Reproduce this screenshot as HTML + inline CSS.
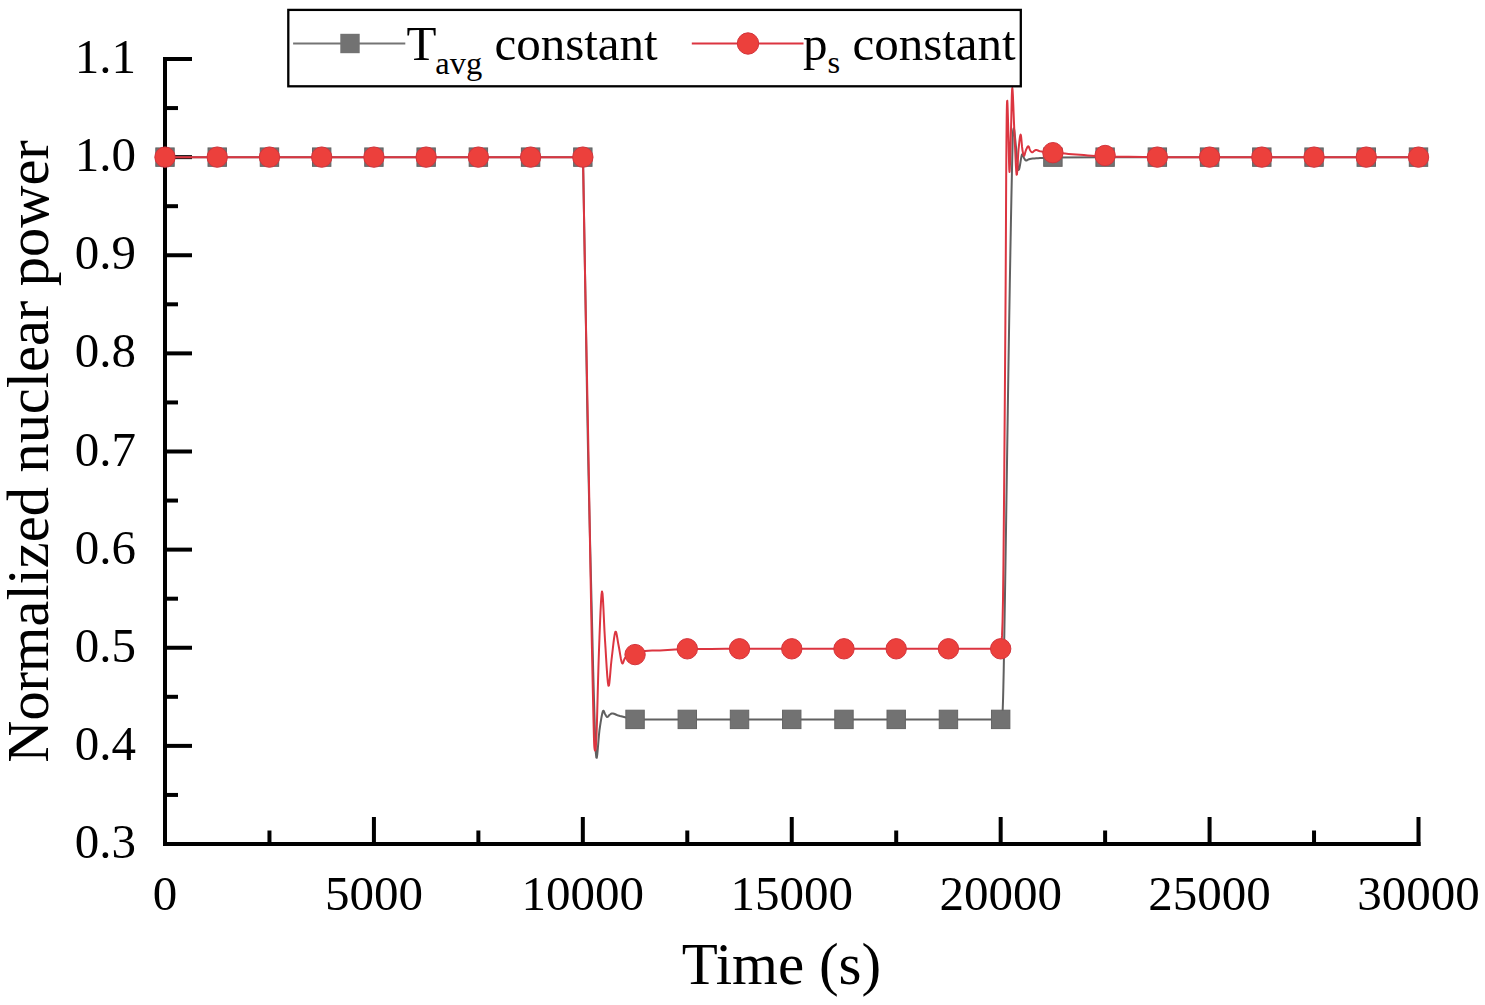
<!DOCTYPE html><html><head><meta charset="utf-8"><style>html,body{margin:0;padding:0;background:#fff;overflow:hidden}svg{display:block}text{font-family:"Liberation Serif",serif;fill:#000}</style></head><body>
<svg width="1485" height="1005" viewBox="0 0 1485 1005">
<rect width="1485" height="1005" fill="#fff"/>
<g stroke="#000" stroke-width="4" fill="none">
<path d="M165,57 L165,846 M163,844 L1420.5,844"/>
<path d="M163,844.00 L192,844.00"/>
<path d="M163,745.88 L192,745.88"/>
<path d="M163,647.75 L192,647.75"/>
<path d="M163,549.62 L192,549.62"/>
<path d="M163,451.50 L192,451.50"/>
<path d="M163,353.38 L192,353.38"/>
<path d="M163,255.25 L192,255.25"/>
<path d="M163,157.13 L192,157.13"/>
<path d="M163,59.00 L192,59.00"/>
<path d="M163,794.94 L178,794.94"/>
<path d="M163,696.81 L178,696.81"/>
<path d="M163,598.69 L178,598.69"/>
<path d="M163,500.56 L178,500.56"/>
<path d="M163,402.44 L178,402.44"/>
<path d="M163,304.31 L178,304.31"/>
<path d="M163,206.19 L178,206.19"/>
<path d="M163,108.06 L178,108.06"/>
<path d="M165.00,846 L165.00,817"/>
<path d="M373.92,846 L373.92,817"/>
<path d="M582.83,846 L582.83,817"/>
<path d="M791.75,846 L791.75,817"/>
<path d="M1000.67,846 L1000.67,817"/>
<path d="M1209.58,846 L1209.58,817"/>
<path d="M1418.50,846 L1418.50,817"/>
<path d="M269.46,846 L269.46,830.5"/>
<path d="M478.38,846 L478.38,830.5"/>
<path d="M687.29,846 L687.29,830.5"/>
<path d="M896.21,846 L896.21,830.5"/>
<path d="M1105.12,846 L1105.12,830.5"/>
<path d="M1314.04,846 L1314.04,830.5"/>
</g>
<path d="M165.00,157.13 L583.00,157.13 L583.27,172.59 L583.65,193.90 L584.09,219.19 L584.57,246.56 L585.05,274.12 L585.50,300.00 L585.91,324.59 L586.30,349.47 L586.69,374.55 L587.09,399.74 L587.53,424.92 L588.00,450.00 L588.54,475.58 L589.13,501.85 L589.75,528.12 L590.37,553.70 L590.96,577.89 L591.50,600.00 L591.98,620.05 L592.41,638.61 L592.82,655.78 L593.22,671.67 L593.61,686.37 L594.00,700.00 L594.38,713.03 L594.75,725.46 L595.11,736.72 L595.47,746.20 L595.87,753.33 L596.30,757.50 L596.78,757.73 L597.30,754.30 L597.84,748.50 L598.39,741.65 L598.95,735.05 L599.50,730.00 L600.06,726.15 L600.63,722.39 L601.21,718.88 L601.78,715.78 L602.31,713.26 L602.80,711.50 L603.23,710.70 L603.61,710.76 L603.97,711.41 L604.31,712.35 L604.65,713.31 L605.00,714.00 L605.36,714.53 L605.71,715.17 L606.06,715.81 L606.42,716.39 L606.80,716.81 L607.20,717.00 L607.63,716.88 L608.08,716.52 L608.55,716.00 L609.03,715.43 L609.51,714.89 L610.00,714.50 L610.44,714.21 L610.84,713.93 L611.24,713.69 L611.70,713.52 L612.27,713.45 L613.00,713.50 L613.84,713.70 L614.74,714.04 L615.75,714.48 L616.93,714.97 L618.32,715.49 L620.00,716.00 L622.21,716.55 L624.96,717.19 L627.94,717.86 L630.81,718.49 L633.28,719.02 L635.00,719.40 L687.29,719.40 L739.52,719.40 L791.75,719.40 L843.98,719.40 L896.21,719.40 L948.44,719.40 L1000.67,719.40 L1000.40,719.40 L1000.65,719.54 L1001.00,720.69 L1001.41,721.57 L1001.86,720.93 L1002.30,717.50 L1002.70,710.00 L1003.05,699.46 L1003.36,687.08 L1003.68,671.91 L1004.01,652.99 L1004.41,629.34 L1004.90,600.00 L1005.51,561.78 L1006.23,514.81 L1007.00,463.12 L1007.79,410.74 L1008.53,361.69 L1009.20,320.00 L1009.79,284.90 L1010.36,253.02 L1010.88,224.47 L1011.37,199.37 L1011.81,177.84 L1012.20,160.00 L1012.52,146.76 L1012.76,138.20 L1012.95,133.22 L1013.13,130.69 L1013.34,129.48 L1013.60,128.50 L1013.91,128.37 L1014.26,130.13 L1014.62,133.22 L1015.00,137.09 L1015.40,141.20 L1015.80,145.00 L1016.21,149.14 L1016.64,154.20 L1017.07,159.49 L1017.53,164.34 L1018.00,168.07 L1018.50,170.00 L1019.04,169.57 L1019.63,167.20 L1020.24,163.71 L1020.84,159.91 L1021.40,156.64 L1021.90,154.70 L1022.33,154.18 L1022.70,154.45 L1023.04,155.24 L1023.36,156.27 L1023.67,157.28 L1024.00,158.00 L1024.32,158.51 L1024.60,159.04 L1024.88,159.55 L1025.19,159.99 L1025.55,160.32 L1026.00,160.50 L1026.48,160.48 L1026.96,160.28 L1027.50,159.97 L1028.15,159.61 L1028.96,159.27 L1030.00,159.00 L1031.29,158.80 L1032.78,158.61 L1034.44,158.44 L1036.23,158.28 L1038.10,158.13 L1040.00,158.00 L1042.13,157.88 L1044.56,157.78 L1047.08,157.69 L1049.45,157.61 L1051.46,157.55 L1052.90,157.50 L1105.12,157.13 L1157.35,157.13 L1209.58,157.13 L1261.81,157.13 L1314.04,157.13 L1366.27,157.13 L1418.50,157.13" fill="none" stroke="#606060" stroke-width="2" stroke-linejoin="round"/>
<path d="M165.00,157.13 L583.00,157.13 L583.27,172.59 L583.63,193.90 L584.07,219.19 L584.54,246.56 L585.03,274.12 L585.50,300.00 L585.96,324.59 L586.45,349.47 L586.94,374.55 L587.44,399.74 L587.93,424.92 L588.40,450.00 L588.85,475.35 L589.29,501.11 L589.72,526.88 L590.15,552.22 L590.58,576.74 L591.00,600.00 L591.44,622.78 L591.89,645.57 L592.34,667.53 L592.77,687.81 L593.16,705.58 L593.50,720.00 L593.77,730.66 L593.97,738.17 L594.14,743.16 L594.30,746.28 L594.48,748.18 L594.70,749.50 L594.96,750.45 L595.23,750.54 L595.52,749.41 L595.83,746.69 L596.15,742.01 L596.50,735.00 L596.87,724.61 L597.26,710.91 L597.67,695.25 L598.10,678.98 L598.55,663.45 L599.00,650.00 L599.47,637.48 L599.96,624.57 L600.47,612.41 L600.98,602.09 L601.49,594.75 L602.00,591.50 L602.50,593.42 L602.99,599.84 L603.48,609.24 L603.97,620.08 L604.48,630.84 L605.00,640.00 L605.55,648.61 L606.11,658.09 L606.69,667.49 L607.27,675.86 L607.85,682.25 L608.40,685.70 L608.93,685.58 L609.43,682.51 L609.92,677.46 L610.43,671.38 L610.95,665.24 L611.50,660.00 L612.10,654.99 L612.74,649.32 L613.39,643.58 L614.05,638.38 L614.69,634.32 L615.30,632.00 L615.86,631.74 L616.40,633.11 L616.92,635.62 L617.43,638.78 L617.96,642.07 L618.50,645.00 L619.07,647.98 L619.66,651.48 L620.26,655.12 L620.86,658.52 L621.44,661.27 L622.00,663.00 L622.52,663.47 L623.00,662.96 L623.47,661.81 L623.94,660.37 L624.45,658.98 L625.00,658.00 L625.59,657.35 L626.19,656.76 L626.81,656.21 L627.48,655.73 L628.21,655.33 L629.00,655.00 L629.95,654.78 L631.07,654.66 L632.25,654.61 L633.37,654.61 L634.32,654.61 L635.00,654.60 L635.06,654.60 L636.73,653.88 L639.09,652.83 L641.93,651.77 L645.00,651.00 L648.39,650.67 L652.18,650.59 L656.13,650.59 L660.00,650.50 L663.81,650.27 L667.67,649.99 L671.44,649.71 L675.00,649.50 L677.33,649.38 L678.82,649.31 L681.47,649.27 L687.29,649.20 L697.54,649.10 L710.91,648.98 L725.53,648.87 L739.52,648.80 L752.58,648.77 L765.64,648.77 L778.69,648.79 L791.75,648.80 L804.81,648.80 L817.86,648.80 L830.92,648.80 L843.98,648.80 L857.04,648.80 L870.09,648.80 L883.15,648.80 L896.21,648.80 L909.27,648.80 L922.32,648.80 L935.38,648.80 L948.44,648.80 L962.72,648.80 L977.82,648.80 L991.28,648.80 L1000.67,648.80 L1000.69,645.99 L1001.08,644.57 L1001.55,641.80 L1002.05,635.14 L1002.55,622.05 L1003.00,600.00 L1003.43,565.34 L1003.87,519.36 L1004.31,466.96 L1004.72,413.01 L1005.09,362.40 L1005.40,320.00 L1005.64,285.22 L1005.81,254.03 L1005.95,226.17 L1006.06,201.39 L1006.17,179.42 L1006.30,160.00 L1006.43,143.33 L1006.56,129.66 L1006.68,118.80 L1006.81,110.56 L1006.94,104.76 L1007.10,101.20 L1007.28,100.78 L1007.47,103.83 L1007.68,109.31 L1007.89,116.19 L1008.10,123.43 L1008.30,130.00 L1008.50,137.20 L1008.69,146.10 L1008.88,155.37 L1009.08,163.66 L1009.28,169.61 L1009.50,171.90 L1009.73,169.77 L1009.99,164.14 L1010.24,156.19 L1010.50,147.08 L1010.76,137.96 L1011.00,130.00 L1011.22,122.03 L1011.42,112.90 L1011.62,103.76 L1011.82,95.78 L1012.05,90.14 L1012.30,88.00 L1012.59,90.11 L1012.90,95.68 L1013.24,103.58 L1013.59,112.69 L1013.94,121.87 L1014.30,130.00 L1014.67,138.10 L1015.06,147.27 L1015.46,156.52 L1015.85,164.84 L1016.24,171.23 L1016.60,174.70 L1016.94,174.49 L1017.26,171.26 L1017.56,166.11 L1017.87,160.11 L1018.18,154.38 L1018.50,150.00 L1018.84,146.55 L1019.20,143.07 L1019.56,139.86 L1019.92,137.18 L1020.27,135.33 L1020.60,134.60 L1020.91,135.36 L1021.20,137.47 L1021.47,140.41 L1021.75,143.66 L1022.02,146.69 L1022.30,149.00 L1022.58,150.72 L1022.86,152.30 L1023.13,153.66 L1023.41,154.75 L1023.70,155.48 L1024.00,155.80 L1024.31,155.54 L1024.63,154.72 L1024.96,153.56 L1025.30,152.24 L1025.65,150.99 L1026.00,150.00 L1026.37,149.17 L1026.76,148.32 L1027.15,147.53 L1027.54,146.87 L1027.93,146.44 L1028.30,146.30 L1028.65,146.57 L1028.99,147.20 L1029.33,148.06 L1029.65,148.99 L1029.98,149.85 L1030.30,150.50 L1030.62,150.98 L1030.93,151.40 L1031.24,151.76 L1031.56,152.03 L1031.87,152.22 L1032.20,152.30 L1032.54,152.23 L1032.89,152.02 L1033.24,151.71 L1033.60,151.37 L1033.95,151.05 L1034.30,150.80 L1034.62,150.60 L1034.91,150.41 L1035.20,150.23 L1035.51,150.09 L1035.87,150.01 L1036.30,150.00 L1036.80,150.09 L1037.36,150.27 L1037.96,150.50 L1038.61,150.76 L1039.29,151.00 L1040.00,151.20 L1040.72,151.36 L1041.46,151.50 L1042.24,151.63 L1043.07,151.76 L1043.98,151.88 L1045.00,152.00 L1046.24,152.13 L1047.71,152.27 L1049.26,152.40 L1050.74,152.52 L1052.01,152.62 L1052.90,152.70 L1055.01,152.85 L1058.01,153.07 L1061.49,153.33 L1065.00,153.60 L1068.55,153.88 L1072.32,154.19 L1076.18,154.50 L1080.00,154.80 L1083.86,155.09 L1087.80,155.39 L1091.59,155.66 L1095.00,155.90 L1096.89,156.08 L1097.74,156.23 L1099.75,156.36 L1105.12,156.50 L1115.22,156.67 L1128.61,156.85 L1143.31,157.01 L1157.35,157.13 L1170.41,157.17 L1183.47,157.16 L1196.53,157.14 L1209.58,157.13 L1222.64,157.13 L1235.70,157.13 L1248.76,157.13 L1261.81,157.13 L1274.87,157.13 L1287.93,157.13 L1300.98,157.13 L1314.04,157.13 L1327.10,157.13 L1340.16,157.13 L1353.21,157.13 L1366.27,157.13 L1380.55,157.13 L1395.65,157.13 L1409.12,157.13 L1418.50,157.13" fill="none" stroke="#dc3540" stroke-width="2" stroke-linejoin="round"/>
<rect x="155.80" y="147.93" width="18.4" height="18.4" fill="#727272" stroke="#646464" stroke-width="1"/>
<rect x="208.03" y="147.93" width="18.4" height="18.4" fill="#727272" stroke="#646464" stroke-width="1"/>
<rect x="260.26" y="147.93" width="18.4" height="18.4" fill="#727272" stroke="#646464" stroke-width="1"/>
<rect x="312.49" y="147.93" width="18.4" height="18.4" fill="#727272" stroke="#646464" stroke-width="1"/>
<rect x="364.72" y="147.93" width="18.4" height="18.4" fill="#727272" stroke="#646464" stroke-width="1"/>
<rect x="416.95" y="147.93" width="18.4" height="18.4" fill="#727272" stroke="#646464" stroke-width="1"/>
<rect x="469.18" y="147.93" width="18.4" height="18.4" fill="#727272" stroke="#646464" stroke-width="1"/>
<rect x="521.40" y="147.93" width="18.4" height="18.4" fill="#727272" stroke="#646464" stroke-width="1"/>
<rect x="573.63" y="147.93" width="18.4" height="18.4" fill="#727272" stroke="#646464" stroke-width="1"/>
<rect x="625.86" y="710.20" width="18.4" height="18.4" fill="#727272" stroke="#646464" stroke-width="1"/>
<rect x="678.09" y="710.20" width="18.4" height="18.4" fill="#727272" stroke="#646464" stroke-width="1"/>
<rect x="730.32" y="710.20" width="18.4" height="18.4" fill="#727272" stroke="#646464" stroke-width="1"/>
<rect x="782.55" y="710.20" width="18.4" height="18.4" fill="#727272" stroke="#646464" stroke-width="1"/>
<rect x="834.78" y="710.20" width="18.4" height="18.4" fill="#727272" stroke="#646464" stroke-width="1"/>
<rect x="887.01" y="710.20" width="18.4" height="18.4" fill="#727272" stroke="#646464" stroke-width="1"/>
<rect x="939.24" y="710.20" width="18.4" height="18.4" fill="#727272" stroke="#646464" stroke-width="1"/>
<rect x="991.47" y="710.20" width="18.4" height="18.4" fill="#727272" stroke="#646464" stroke-width="1"/>
<rect x="1043.70" y="147.93" width="18.4" height="18.4" fill="#727272" stroke="#646464" stroke-width="1"/>
<rect x="1095.92" y="147.93" width="18.4" height="18.4" fill="#727272" stroke="#646464" stroke-width="1"/>
<rect x="1148.15" y="147.93" width="18.4" height="18.4" fill="#727272" stroke="#646464" stroke-width="1"/>
<rect x="1200.38" y="147.93" width="18.4" height="18.4" fill="#727272" stroke="#646464" stroke-width="1"/>
<rect x="1252.61" y="147.93" width="18.4" height="18.4" fill="#727272" stroke="#646464" stroke-width="1"/>
<rect x="1304.84" y="147.93" width="18.4" height="18.4" fill="#727272" stroke="#646464" stroke-width="1"/>
<rect x="1357.07" y="147.93" width="18.4" height="18.4" fill="#727272" stroke="#646464" stroke-width="1"/>
<rect x="1409.30" y="147.93" width="18.4" height="18.4" fill="#727272" stroke="#646464" stroke-width="1"/>
<circle cx="165.00" cy="157.13" r="10.2" fill="#ec403c" stroke="#d3343c" stroke-width="1"/>
<circle cx="217.23" cy="157.13" r="10.2" fill="#ec403c" stroke="#d3343c" stroke-width="1"/>
<circle cx="269.46" cy="157.13" r="10.2" fill="#ec403c" stroke="#d3343c" stroke-width="1"/>
<circle cx="321.69" cy="157.13" r="10.2" fill="#ec403c" stroke="#d3343c" stroke-width="1"/>
<circle cx="373.92" cy="157.13" r="10.2" fill="#ec403c" stroke="#d3343c" stroke-width="1"/>
<circle cx="426.15" cy="157.13" r="10.2" fill="#ec403c" stroke="#d3343c" stroke-width="1"/>
<circle cx="478.38" cy="157.13" r="10.2" fill="#ec403c" stroke="#d3343c" stroke-width="1"/>
<circle cx="530.60" cy="157.13" r="10.2" fill="#ec403c" stroke="#d3343c" stroke-width="1"/>
<circle cx="582.83" cy="157.13" r="10.2" fill="#ec403c" stroke="#d3343c" stroke-width="1"/>
<circle cx="635.06" cy="654.60" r="10.2" fill="#ec403c" stroke="#d3343c" stroke-width="1"/>
<circle cx="687.29" cy="648.80" r="10.2" fill="#ec403c" stroke="#d3343c" stroke-width="1"/>
<circle cx="739.52" cy="648.80" r="10.2" fill="#ec403c" stroke="#d3343c" stroke-width="1"/>
<circle cx="791.75" cy="648.80" r="10.2" fill="#ec403c" stroke="#d3343c" stroke-width="1"/>
<circle cx="843.98" cy="648.80" r="10.2" fill="#ec403c" stroke="#d3343c" stroke-width="1"/>
<circle cx="896.21" cy="648.80" r="10.2" fill="#ec403c" stroke="#d3343c" stroke-width="1"/>
<circle cx="948.44" cy="648.80" r="10.2" fill="#ec403c" stroke="#d3343c" stroke-width="1"/>
<circle cx="1000.67" cy="648.80" r="10.2" fill="#ec403c" stroke="#d3343c" stroke-width="1"/>
<circle cx="1052.90" cy="152.70" r="10.2" fill="#ec403c" stroke="#d3343c" stroke-width="1"/>
<circle cx="1105.12" cy="155.50" r="10.2" fill="#ec403c" stroke="#d3343c" stroke-width="1"/>
<circle cx="1157.35" cy="157.13" r="10.2" fill="#ec403c" stroke="#d3343c" stroke-width="1"/>
<circle cx="1209.58" cy="157.13" r="10.2" fill="#ec403c" stroke="#d3343c" stroke-width="1"/>
<circle cx="1261.81" cy="157.13" r="10.2" fill="#ec403c" stroke="#d3343c" stroke-width="1"/>
<circle cx="1314.04" cy="157.13" r="10.2" fill="#ec403c" stroke="#d3343c" stroke-width="1"/>
<circle cx="1366.27" cy="157.13" r="10.2" fill="#ec403c" stroke="#d3343c" stroke-width="1"/>
<circle cx="1418.50" cy="157.13" r="10.2" fill="#ec403c" stroke="#d3343c" stroke-width="1"/>
<text x="136" y="858.00" font-size="49" text-anchor="end">0.3</text>
<text x="136" y="759.88" font-size="49" text-anchor="end">0.4</text>
<text x="136" y="661.75" font-size="49" text-anchor="end">0.5</text>
<text x="136" y="563.62" font-size="49" text-anchor="end">0.6</text>
<text x="136" y="465.50" font-size="49" text-anchor="end">0.7</text>
<text x="136" y="367.38" font-size="49" text-anchor="end">0.8</text>
<text x="136" y="269.25" font-size="49" text-anchor="end">0.9</text>
<text x="136" y="171.13" font-size="49" text-anchor="end">1.0</text>
<text x="136" y="73.00" font-size="49" text-anchor="end">1.1</text>
<text x="165.00" y="909.5" font-size="49" text-anchor="middle">0</text>
<text x="373.92" y="909.5" font-size="49" text-anchor="middle">5000</text>
<text x="582.83" y="909.5" font-size="49" text-anchor="middle">10000</text>
<text x="791.75" y="909.5" font-size="49" text-anchor="middle">15000</text>
<text x="1000.67" y="909.5" font-size="49" text-anchor="middle">20000</text>
<text x="1209.58" y="909.5" font-size="49" text-anchor="middle">25000</text>
<text x="1418.50" y="909.5" font-size="49" text-anchor="middle">30000</text>
<text x="781.5" y="984" font-size="59" text-anchor="middle">Time (s)</text>
<text transform="translate(47.7,451.5) rotate(-90)" x="0" y="0" font-size="58.4" text-anchor="middle">Normalized nuclear power</text>
<rect x="288.3" y="9.9" width="732.5" height="76.4" fill="#fff" stroke="#000" stroke-width="2.3"/>
<path d="M293.1,43.5 L405.3,43.5" stroke="#747474" stroke-width="1.8"/>
<rect x="340.3" y="33.8" width="19.4" height="19.4" fill="#727272"/>
<path d="M691.8,43.5 L803.5,43.5" stroke="#dc3540" stroke-width="2"/>
<circle cx="748" cy="43.5" r="10.7" fill="#ec403c" stroke="#d3343c" stroke-width="1"/>
<text x="406.6" y="59.5" font-size="49">T<tspan font-size="32.5" dx="-1.3" dy="14">avg</tspan><tspan dy="-14"> constant</tspan></text>
<text x="803" y="59.5" font-size="49">p<tspan font-size="32.5" dy="13.5">s</tspan><tspan dy="-13.5"> constant</tspan></text>
</svg></body></html>
